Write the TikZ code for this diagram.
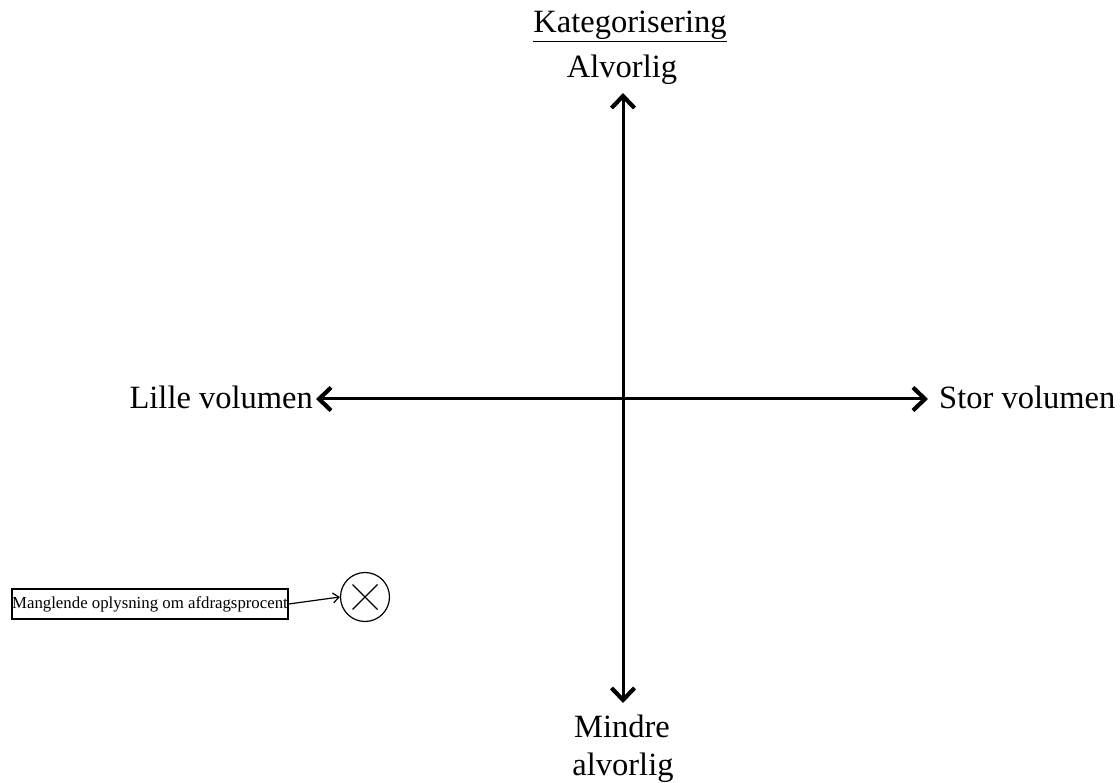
\documentclass[tikz,border=0pt]{standalone}
\usepackage{fontspec}
\setmainfont{Liberation Serif}
\usetikzlibrary{arrows.meta,calc}
\begin{document}
\begin{tikzpicture}[x=1pt,y=-1pt,
  lbl/.style={font=\fontsize{32.5}{38}\selectfont, inner sep=0pt},
  axis/.style={line width=3pt, {Straight Barb[length=12pt,width=23pt,line width=4.2pt]}-{Straight Barb[length=12pt,width=23pt,line width=4.2pt]}},
  smallbox/.style={draw, line width=1.3pt, font=\fontsize{16.8}{18}\selectfont, minimum width=276pt, minimum height=30pt, inner sep=0pt},
  crossmark/.style={draw, circle, line width=1.2pt, minimum size=49pt, inner sep=0pt},
  thinline/.style={line width=1.2pt}
]
\useasboundingbox (0,0) rectangle (1120,783);
\fill[white] (0,0) rectangle (1120,783);

% axes
\coordinate (top) at (623,93);
\coordinate (bot) at (623,703);
\coordinate (lft) at (316,399);
\coordinate (rgt) at (928,399);
\draw[axis] (top) -- (bot);
\draw[axis] (lft) -- (rgt);

% labels
\node[lbl, anchor=base] (title) at (630,33) {\underline{Kategorisering}};
\node[lbl, anchor=base] (sev) at (622,78) {Alvorlig};
\node[lbl, anchor=base east] (small) at (313,409) {Lille volumen};
\node[lbl, anchor=base west] (large) at (939,409) {Stor volumen};
\node[lbl, anchor=base] (less1) at (622,737) {Mindre};
\node[lbl, anchor=base] (less2) at (623,775) {alvorlig};

% item
\node[smallbox] (item) at (150,604) {Manglende oplysning om afdragsprocent};
\node[crossmark] (circ) at (365,597) {};
\draw[thinline] ($(circ.center)+(-12.5,-12.5)$) -- ($(circ.center)+(12.5,12.5)$);
\draw[thinline] ($(circ.center)+(-12.5,12.5)$) -- ($(circ.center)+(12.5,-12.5)$);
\draw[thinline, -{Straight Barb[length=6pt,width=10pt]}] (item.east) -- (circ.west);
\end{tikzpicture}
\end{document}
